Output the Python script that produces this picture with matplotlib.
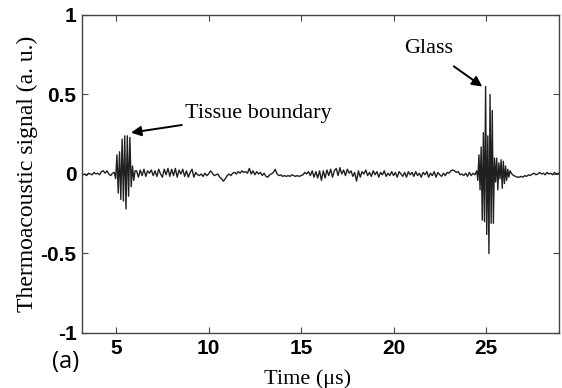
import numpy as np
import matplotlib
matplotlib.use("Agg")
import matplotlib.pyplot as plt

# baseline noise before the first echo (t = 3.1 ... 4.8 us, step 0.1)
noise_pre = [-0.01, -0.005, 0.0, -0.01, 0.005, 0.0, -0.005, 0.01, 0.0, 0.005,
             -0.005, 0.015, 0.02, 0.005, 0.02, 0.0, -0.01, 0.005]

# tissue boundary echo (t = 4.9 ... us, step 0.07)
tissue_burst = [0.01, -0.03, 0.12, -0.12, 0.14, -0.16, 0.22, -0.17, 0.24,
                -0.22, 0.24, -0.14, 0.23, -0.08, 0.05, -0.04, 0.02]

# noise between the two echoes (t = 6.1 ... 24.4 us, step 0.1)
noise_mid = [
    0.02, -0.02, 0.025, -0.01, 0.03, -0.015, 0.02, 0.005, 0.025, -0.01,
    0.02, -0.015, 0.03, 0.0, -0.02, 0.03, -0.005, 0.035, -0.015, 0.03,
    -0.01, 0.035, -0.02, 0.025, 0.0, 0.03, -0.015, 0.02, -0.02, 0.01,
    0.03, -0.02, 0.01, -0.005, -0.01, 0.0, -0.015, 0.005, -0.01, 0.0,
    0.02, 0.005, -0.01, -0.005, 0.0, -0.02, -0.03, -0.045, -0.03, -0.01,
    0.0, -0.01, 0.005, 0.01, 0.0, 0.015, 0.005, 0.02, 0.01, 0.015,
    0.005, 0.035, 0.0, 0.02, -0.005, 0.015, 0.0, 0.01, -0.01, 0.005,
    -0.015, -0.02, -0.005, 0.0, 0.01, 0.03, 0.0, -0.01, -0.005, -0.015,
    -0.01, -0.015, -0.01, -0.015, -0.005, -0.01, -0.015, -0.01, -0.015, -0.01,
    -0.005, 0.01, 0.0, 0.015, -0.01, 0.02, -0.02, 0.015, -0.025, 0.02,
    -0.04, 0.02, -0.025, 0.025, -0.01, 0.03, -0.02, 0.02, 0.035, -0.01,
    0.04, 0.0, 0.025, -0.01, 0.03, 0.005, 0.02, -0.015, 0.01, -0.045,
    0.02, -0.02, 0.015, 0.0, 0.025, -0.01, 0.01, -0.015, 0.02, -0.005,
    0.015, -0.02, 0.01, -0.005, 0.02, -0.015, 0.005, -0.01, 0.015, -0.01,
    0.01, -0.02, 0.015, 0.0, -0.015, 0.01, -0.02, 0.015, -0.005, 0.01,
    -0.015, 0.015, -0.01, 0.005, -0.02, 0.01, -0.005, 0.015, -0.02, 0.005,
    -0.01, 0.015, -0.02, 0.01, -0.005, -0.015, 0.005, -0.01, 0.01, 0.005,
    0.02, 0.025, 0.02, 0.01, 0.015, -0.005, 0.0, -0.01, 0.005, -0.015,
    0.01, -0.01, 0.005, -0.005,
]

# glass echo (t = 24.5 ... us, step 0.06)
glass_burst = [0.02, -0.04, 0.12, -0.10, 0.17, -0.29, 0.26, -0.30, 0.55,
               -0.38, 0.24, -0.50, 0.50, -0.31, 0.40, -0.31, 0.10, -0.05,
               0.10, -0.10, 0.07, -0.03, 0.09, -0.09, 0.08, -0.06, 0.05,
               -0.04, 0.03, -0.02, 0.02]

# tail after the glass echo (t = 26.4 ... 29.0 us, step 0.1)
noise_post = [0.0, -0.01, -0.015, -0.02, -0.02, -0.015, -0.02, -0.01, -0.015, -0.005,
              -0.01, 0.0, 0.005, -0.005, 0.0, 0.01, 0.0, 0.005, -0.005, 0.01,
              0.0, 0.005, -0.005, 0.01, 0.0, 0.005, 0.0]

segments = [
    (3.1, 0.1, noise_pre),
    (4.9, 0.07, tissue_burst),
    (6.1, 0.1, noise_mid),
    (24.5, 0.06, glass_burst),
    (26.4, 0.1, noise_post),
]
t = np.concatenate([t0 + dt * np.arange(len(v)) for t0, dt, v in segments])
s = np.concatenate([np.asarray(v) for _, _, v in segments])

fig = plt.figure(figsize=(5.62, 3.88), dpi=100)
ax = fig.add_axes([82 / 562, 1 - 333 / 388, (559 - 82) / 562, (333 - 15) / 388])

ax.plot(t, s, color="#202020", lw=1.0)

ax.set_xlim(3.15, 28.95)
ax.set_ylim(-1, 1)
ax.set_xticks([5, 10, 15, 20, 25])
ax.set_yticks([-1, -0.5, 0, 0.5, 1])
ax.set_yticklabels(["-1", "-0.5", "0", "0.5", "1"])
ax.tick_params(direction="in", top=True, right=True, length=4, width=0.8,
               colors="#444444", labelcolor="black", labelsize=15, pad=4)
for lab in ax.get_xticklabels() + ax.get_yticklabels():
    lab.set_fontfamily("Liberation Sans")
    lab.set_fontweight("bold")
for sp in ax.spines.values():
    sp.set_color("#444444")
    sp.set_linewidth(1.0)

serif = "Liberation Serif"
ax.set_xlabel("Time (\u03bcs)", family=serif, fontsize=16)
ax.xaxis.set_label_coords(0.472, -0.115)
ax.set_ylabel("Thermoacoustic signal (a. u.)", family=serif, fontsize=17)
ax.yaxis.set_label_coords(-0.093, 0.5)

ax.annotate("Tissue boundary", xy=(5.8, 0.26), xytext=(8.7, 0.38),
            family=serif, fontsize=16, va="center", ha="left",
            arrowprops=dict(arrowstyle="-|>", color="black", lw=1.4,
                            mutation_scale=15, shrinkA=0, shrinkB=0))
ax.annotate("Glass", xy=(24.8, 0.55), xytext=(21.9, 0.79),
            family=serif, fontsize=16, va="center", ha="center",
            arrowprops=dict(arrowstyle="-|>", color="black", lw=1.4,
                            mutation_scale=15, shrinkA=7, shrinkB=0))

fig.text(66 / 562, 1 - 362 / 388, "(a)", family="Open Sans", fontsize=17,
         ha="center", va="center")

fig.savefig("out.png", dpi=100)
